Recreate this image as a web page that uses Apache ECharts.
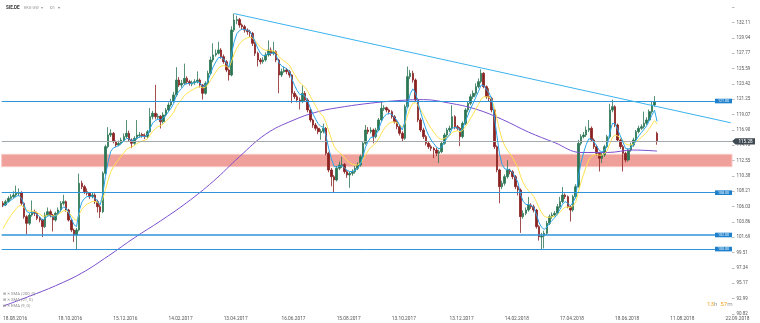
<!DOCTYPE html>
<html><head><meta charset="utf-8">
<script src="https://cdn.jsdelivr.net/npm/echarts@6/dist/echarts.min.js"></script>
<style>html,body{margin:0;padding:0;background:#fff}#c{width:760px;height:323px}</style>
</head><body><div id="c"></div><script>
// ---- data (each candle = 2 trading days) [open, close, low, high]
const ohlc = [
[106.50,106.25,105.95,106.80],[106.25,106.73,106.10,107.00],[106.73,107.20,106.60,107.50],[107.20,107.44,107.00,107.80],[107.44,107.67,107.20,108.20],
[107.67,107.91,107.40,109.00],[107.91,108.00,107.50,108.60],[108.00,106.49,106.20,108.20],[106.49,104.60,104.30,106.60],[104.60,103.65,102.10,104.80],
[103.65,104.83,103.40,105.10],[104.83,105.31,104.60,106.90],[105.31,105.07,104.70,105.60],[105.07,104.36,104.10,105.30],[104.36,104.12,103.80,104.60],
[104.12,103.17,101.70,104.30],[103.17,104.83,103.00,105.20],[104.83,105.31,104.60,105.90],[105.31,104.83,104.50,105.60],[104.83,104.12,102.50,105.00],
[104.12,105.07,103.90,105.30],[105.07,105.54,104.80,105.90],[105.54,106.49,105.30,106.80],[106.49,106.73,106.20,107.70],[106.73,105.54,105.30,106.90],
[105.54,104.12,103.90,105.70],[104.12,102.70,102.40,104.30],[102.70,102.00,101.00,102.90],[102.00,102.70,99.87,103.00],[102.70,109.33,102.50,110.70],
[109.33,108.85,108.50,109.70],[108.85,108.14,107.80,109.10],[108.14,107.91,107.60,108.60],[107.91,107.44,107.10,108.10],[107.44,107.67,107.20,108.10],
[107.67,106.73,106.40,107.90],[106.73,106.01,105.20,107.00],[106.01,105.31,104.40,106.30],[105.31,110.74,105.10,111.00],[110.74,114.53,110.50,114.80],
[114.53,116.18,114.30,117.30],[116.18,116.42,115.90,117.00],[116.42,115.24,115.00,116.60],[115.24,114.76,114.50,115.40],[114.76,115.00,114.60,115.40],
[115.00,115.47,114.80,115.80],[115.47,115.95,115.30,116.40],[115.95,116.42,115.70,118.30],[116.42,115.47,115.20,116.80],[115.47,115.00,114.30,115.70],
[115.00,115.71,114.80,116.00],[115.71,116.18,115.50,118.30],[116.10,116.18,115.80,116.60],[116.25,116.10,115.80,116.50],[116.10,115.95,115.60,116.40],
[115.95,116.65,115.70,116.90],[116.65,118.78,116.50,120.00],[118.78,119.26,118.40,119.60],[119.26,118.78,118.40,123.30],[118.70,118.85,118.40,119.20],
[118.85,118.07,117.10,119.00],[118.07,119.02,117.80,119.40],[119.02,119.73,118.80,120.00],[119.73,120.44,119.50,120.80],[120.44,120.91,120.20,121.30],
[120.91,121.86,120.70,122.30],[121.86,123.98,121.60,125.80],[123.98,123.27,123.00,124.40],[123.27,123.51,122.90,124.00],[123.51,124.22,123.30,126.30],
[124.22,123.75,123.40,124.50],[123.75,123.51,123.20,124.00],[123.40,123.60,123.10,123.90],[123.60,123.75,123.30,124.10],[123.75,123.98,123.50,125.20],
[123.98,123.27,122.90,124.20],[123.27,122.09,121.20,123.40],[122.09,123.51,121.90,123.80],[123.51,124.93,123.30,125.30],[124.93,126.82,124.70,127.30],
[126.82,127.53,126.50,129.20],[127.53,127.77,127.30,128.30],[127.77,128.24,127.60,129.40],[128.24,127.29,127.00,128.50],[127.29,126.58,126.30,127.60],
[126.58,125.40,125.10,126.80],[125.40,124.69,123.90,125.60],[124.69,131.07,124.50,131.60],[131.07,132.49,130.80,133.40],[132.40,132.55,131.90,133.10],
[132.55,131.78,131.40,132.80],[131.78,131.55,131.10,132.00],[131.55,131.07,130.70,131.80],[131.07,130.84,130.40,131.30],[130.84,130.60,130.10,131.10],
[130.60,129.18,128.80,130.80],[129.18,127.77,127.40,129.40],[127.77,126.82,125.90,128.00],[126.82,126.58,126.20,127.10],[126.58,126.82,126.30,127.20],
[126.82,127.53,126.60,127.90],[127.53,128.24,127.30,129.60],[128.24,127.77,127.40,128.60],[127.77,128.00,127.50,129.40],[128.00,126.82,126.50,128.20],
[126.82,124.69,122.10,127.00],[124.69,125.17,124.40,125.60],[125.17,125.40,125.00,125.90],[125.40,125.17,124.80,125.70],[125.17,124.69,124.30,125.40],
[124.69,122.09,120.70,124.80],[122.09,121.62,121.30,122.40],[121.62,121.15,120.80,121.90],[121.15,120.91,119.80,121.50],[120.91,122.09,120.70,123.20],
[122.09,121.15,120.90,122.40],[121.15,119.73,119.40,121.40],[119.73,118.31,118.00,119.90],[118.31,117.60,117.20,118.50],[117.60,117.13,116.80,117.90],
[117.13,116.65,116.30,117.40],[116.50,116.70,115.50,117.00],[116.70,117.13,116.40,117.80],[117.13,113.58,113.30,117.30],[113.58,111.22,110.90,113.80],
[111.22,110.27,108.90,111.50],[110.27,109.80,108.00,110.50],[109.80,111.45,109.60,111.80],[111.45,111.93,111.20,112.40],[111.85,112.00,111.50,113.10],
[112.00,110.98,110.70,112.20],[110.98,110.51,110.10,111.20],[110.51,110.74,108.70,111.00],[110.74,110.98,110.40,111.30],[110.98,111.45,110.70,111.80],
[111.45,111.93,111.20,112.30],[111.93,113.11,111.70,113.40],[113.11,115.00,112.90,115.30],[115.00,116.89,114.80,117.60],[116.89,116.65,116.30,117.30],
[116.65,116.89,116.40,117.30],[116.89,115.95,115.00,117.10],[115.95,116.89,115.70,117.20],[116.89,118.31,116.70,118.60],[118.31,119.96,118.10,120.90],
[119.90,120.05,119.60,120.40],[120.05,119.73,119.40,120.20],[119.73,119.49,119.10,119.90],[119.49,118.78,118.50,119.70],[118.78,118.07,117.80,119.00],
[118.07,117.36,117.00,118.30],[117.36,116.42,116.10,117.60],[116.42,115.71,115.20,116.70],[115.71,120.20,115.50,120.50],[120.20,124.46,120.00,125.90],
[124.46,124.93,124.10,125.40],[124.93,123.98,123.60,125.30],[123.98,121.15,120.90,124.20],[121.15,118.31,118.00,121.40],[118.31,116.89,116.60,118.60],
[116.89,115.95,115.60,117.20],[115.95,115.00,114.70,116.20],[115.00,114.53,114.20,115.30],[114.53,114.29,113.90,114.80],[114.29,114.05,112.90,114.50],
[114.05,113.58,113.20,114.40],[113.58,113.82,112.20,114.10],[113.82,115.00,113.60,115.30],[115.00,116.18,114.80,116.50],[116.18,116.89,115.90,117.20],
[116.89,117.13,116.60,117.50],[117.13,118.78,116.90,120.40],[118.78,117.36,117.00,119.00],[117.36,117.13,116.80,117.60],[117.13,115.95,114.60,117.30],
[115.95,117.84,115.70,118.10],[117.84,119.73,117.60,120.00],[119.73,120.67,119.40,121.00],[120.67,121.62,120.40,122.00],[121.62,122.09,121.30,122.50],
[122.09,123.04,121.80,123.50],[123.04,123.75,122.80,124.20],[123.75,124.93,123.50,125.50],[124.93,123.04,122.80,125.10],[123.04,121.62,121.30,123.20],
[121.62,121.38,121.00,122.80],[121.38,119.73,119.40,121.60],[119.73,114.53,114.20,119.90],[114.53,111.22,110.90,114.70],[111.22,108.85,106.50,111.40],
[108.85,109.33,108.50,109.70],[109.33,110.27,109.00,110.60],[110.27,111.22,110.00,112.60],[111.22,110.98,110.60,111.40],[110.98,110.27,109.90,111.20],
[110.27,108.85,108.50,110.50],[108.85,108.38,107.60,109.00],[108.38,104.60,102.30,108.60],[104.60,105.07,104.30,105.50],[105.07,105.54,104.80,105.90],
[105.54,106.25,105.30,107.40],[106.25,106.01,105.70,106.50],[106.01,105.54,105.20,106.30],[105.54,103.17,102.90,105.70],[103.17,101.76,101.20,103.40],
[101.70,101.85,100.00,102.30],[101.85,102.24,100.10,102.60],[102.24,103.65,102.00,104.00],[103.65,104.60,103.40,104.90],[104.60,104.83,104.30,105.20],
[104.83,105.07,104.60,105.40],[105.07,106.01,104.80,106.40],[106.01,106.73,105.80,107.40],[106.73,107.67,106.50,108.80],[107.67,107.44,107.10,107.90],
[107.44,106.01,105.80,107.60],[106.01,105.54,103.90,106.20],[105.54,107.44,105.30,107.70],[107.44,108.85,107.20,109.20],[108.85,115.00,108.70,115.50],
[115.00,115.95,114.70,116.30],[115.95,116.18,115.70,116.60],[116.18,116.89,115.90,117.40],[116.89,117.13,116.60,118.30],[117.13,115.47,115.20,117.40],
[115.47,114.53,114.20,115.70],[114.53,113.58,113.30,114.80],[113.58,112.87,111.00,113.80],[112.87,113.35,112.20,113.70],[113.35,114.53,113.10,114.80],
[114.53,115.95,114.30,116.20],[115.95,119.73,115.70,120.60],[119.73,120.20,119.40,121.20],[120.20,117.60,117.30,120.40],[117.60,115.47,115.20,117.80],
[115.47,114.53,114.20,115.70],[114.53,113.58,111.00,114.80],[113.58,112.63,112.30,113.80],[112.63,114.05,112.40,114.30],[114.05,114.76,113.80,115.10],
[114.76,115.47,114.50,115.80],[115.47,116.65,115.30,116.90],[116.65,117.13,116.40,117.50],[117.13,117.36,116.90,117.70],[117.36,117.84,117.10,119.50],
[117.84,118.31,117.60,118.70],[118.31,119.49,118.10,119.80],[119.49,120.44,119.20,121.00],[120.44,120.91,120.20,121.70],[116.42,115.28,114.80,116.65]
];
// SMA(200) every 10 candles (last one = last candle)
const sma200 = [91.9,93.3,94.8,96.6,99.0,101.6,104.0,106.6,109.6,113.1,116.3,118.2,119.5,120.2,120.7,121.05,121.2,120.7,119.85,118.4,116.6,115.1,113.7,113.7,114.05,113.9];
const smaStep = 10;
const emaFast = {period: 9, seed: 106.0};
const emaSlow = {period: 21, seed: 102.2};
const daysPerCandle = 2;
const firstDay = '18.08.2016';
const holidays = ['26.12.2016','14.04.2017','17.04.2017','01.05.2017','25.12.2017','26.12.2017','01.01.2018','30.03.2018','02.04.2018','01.05.2018'];
const futureSlots = 28;
const tickLabels = ['18.08.2016','18.10.2016','15.12.2016','14.02.2017','13.04.2017','16.06.2017','15.08.2017','13.10.2017','13.12.2017','14.02.2018','17.04.2018','18.06.2018','11.08.2018','22.09.2018'];
const priceTicks = ['90.82','92.99','95.17','97.34','99.51','101.69','103.86','106.03','108.21','110.38','112.55','114.73','116.90','119.07','121.25','123.42','125.59','127.77','129.94','132.11'];
const levels = [121.00, 108.00, 102.00, 100.00];
const zone = [111.69, 113.44];
const lastPrice = 115.28;
const trend = {from: [88, 133.40], to: [277, 117.92]};
const legendRows = ['SMA (200, 0)', 'SMA (21, 0)', 'EMA (9, 0)'];

// ---- categories (trading days, then calendar days in the future)
const DAY = 86400000;
function parseD(s){const p=s.split('.').map(Number);return Date.UTC(p[2],p[1]-1,p[0]);}
function fmtD(t){const d=new Date(t);return String(d.getUTCDate()).padStart(2,'0')+'.'+String(d.getUTCMonth()+1).padStart(2,'0')+'.'+d.getUTCFullYear();}
const hol = new Set(holidays);
const categories = [], catTimes = [];
let t = parseD(firstDay), k = 0;
function isTrading(tt){const wd=new Date(tt).getUTCDay();return wd>0&&wd<6&&!hol.has(fmtD(tt));}
while (categories.length < ohlc.length) {
  if (isTrading(t)) { if (k % daysPerCandle === 0) { categories.push(fmtD(t)); catTimes.push(t); } k++; }
  t += DAY;
}
while (k % daysPerCandle !== 0) { if (isTrading(t)) k++; t += DAY; }
for (let j = 0; j < futureSlots; j++) { categories.push(fmtD(t)); catTimes.push(t); t += daysPerCandle * DAY; }
const labelAt = new Map();
tickLabels.forEach(s => { const tt = parseD(s); let idx = 0; catTimes.forEach((c, i) => { if (c <= tt) idx = i; }); labelAt.set(idx, s); });

// ---- indicators
function ema(p){ const a = 1 - Math.pow(1 - 2/(p.period+1), daysPerCandle); let e = p.seed; return ohlc.map(d => +(e = e + a*(d[1]-e)).toFixed(3)); }
const fastLine = ema(emaFast), slowLine = ema(emaSlow);
const smaLine = categories.map(() => null);
sma200.forEach((v, i) => { smaLine[Math.min(i*smaStep, ohlc.length-1)] = v; });

const FONT = 'Roboto';
const chart = echarts.init(document.getElementById('c'), null, {renderer: 'canvas'});
const option = {
  animation: false,
  textStyle: {fontFamily: FONT},
  grid: {left: 0, right: 28, top: 0, bottom: 9.2},
  xAxis: {type: 'category', data: categories, boundaryGap: true,
    axisLine: {show: false}, axisTick: {show: false}, splitLine: {show: false},
    axisLabel: {interval: (i) => labelAt.has(i), formatter: (v, i) => labelAt.get(i) || '', align: 'left',
      fontSize: 4.8, color: '#555', margin: 3, fontFamily: FONT}},
  yAxis: {type: 'value', position: 'right', min: 90.82, max: 135.33, interval: 2.1733,
    splitLine: {show: false}, axisLine: {show: false},
    axisTick: {show: true, length: 2.5, lineStyle: {color: '#aaa', width: 0.8}},
    axisLabel: {fontSize: 4.5, color: '#555', margin: 4.5, fontFamily: FONT, alignMinLabel: 'bottom', showMaxLabel: false,
      formatter: v => { const s = v.toFixed(2); return priceTicks.includes(s) ? s : ''; }}},
  series: [
    {type: 'candlestick', data: ohlc, barWidth: '78%',
      itemStyle: {color: '#2c7656', color0: '#8a2222', borderColor: '#2c7656', borderColor0: '#8a2222', borderWidth: 0.8},
      markArea: {silent: true, itemStyle: {color: '#f0a09a', borderColor: '#f7c9c4', borderWidth: 1},
        data: [[{yAxis: zone[1]}, {yAxis: zone[0]}]]},
      markLine: {silent: true, symbol: ['none', 'none'], label: {show: false}, animation: false,
        data: levels.map(v => ({yAxis: v, lineStyle: {color: '#2f95da', width: v === 102 ? 1.6 : 1, type: 'solid'}}))
          .concat([{yAxis: lastPrice, lineStyle: {color: '#a3abb0', width: 1, type: 'solid'}}])
          .concat([[{coord: trend.from, lineStyle: {color: '#3bb3ee', width: 1, type: 'solid'}}, {coord: trend.to}]])}
    },
    {type: 'line', data: smaLine, connectNulls: true, smooth: 0.4, showSymbol: false, symbol: 'none',
      lineStyle: {color: '#7b4fd0', width: 1}, z: 3},
    {type: 'line', data: slowLine, showSymbol: false, symbol: 'none', lineStyle: {color: '#ffe14f', width: 1}, z: 4},
    {type: 'line', data: fastLine, showSymbol: false, symbol: 'none', lineStyle: {color: '#27a4ea', width: 1}, z: 5}
  ]
};
chart.setOption(option);

// ---- overlay labels positioned through the chart's scales
const g = [];
levels.forEach(v => {
  const y = chart.convertToPixel({yAxisIndex: 0}, v);
  g.push({type: 'rect', shape: {x: 715, y: y - 2.3, width: 17, height: 4.6}, style: {fill: '#1f80cc'}, z: 100});
  g.push({type: 'text', x: 723.5, y: y, style: {text: v.toFixed(2), fill: '#fff', fontSize: 3.6, fontFamily: FONT, align: 'center', verticalAlign: 'middle'}, z: 101});
});
const yl = chart.convertToPixel({yAxisIndex: 0}, lastPrice);
g.push({type: 'polygon', shape: {points: [[732, yl], [735.5, yl - 3.2], [755, yl - 3.2], [755, yl + 3.2], [735.5, yl + 3.2]]}, style: {fill: '#3e4951'}, z: 100});
g.push({type: 'text', x: 745.5, y: yl, style: {text: lastPrice.toFixed(2), fill: '#fff', fontSize: 4.6, fontFamily: FONT, align: 'center', verticalAlign: 'middle'}, z: 101});
// header
g.push({type: 'text', x: 6, y: 8, style: {text: 'SIE.DE', fill: '#333', fontSize: 4.6, fontWeight: 'bold', fontFamily: FONT, verticalAlign: 'middle'}, z: 100});
g.push({type: 'text', x: 24, y: 8, style: {text: 'EKG GW  ▾', fill: '#999', fontSize: 4, fontFamily: FONT, verticalAlign: 'middle'}, z: 100});
g.push({type: 'text', x: 50, y: 8, style: {text: 'D1   ▾', fill: '#888', fontSize: 4, fontFamily: FONT, verticalAlign: 'middle'}, z: 100});
// legend rows
legendRows.forEach((s, i) => {
  g.push({type: 'text', x: 3, y: 294.3 + i * 5.7, style: {text: '⊞ ✕ ' + s, fill: '#8a8a8a', fontSize: 4.2, fontFamily: FONT, verticalAlign: 'middle'}, z: 100});
});
// countdown
g.push({type: 'text', x: 707, y: 304, style: {text: '{o|13}{g|h} {o|57}{g|m}', fontFamily: FONT, verticalAlign: 'middle',
  rich: {o: {fill: '#f5a623', fontSize: 6.2, fontFamily: FONT}, g: {fill: '#9a9a9a', fontSize: 6.2, fontFamily: FONT}}}, z: 100});
chart.setOption({graphic: g});
</script></body></html>
